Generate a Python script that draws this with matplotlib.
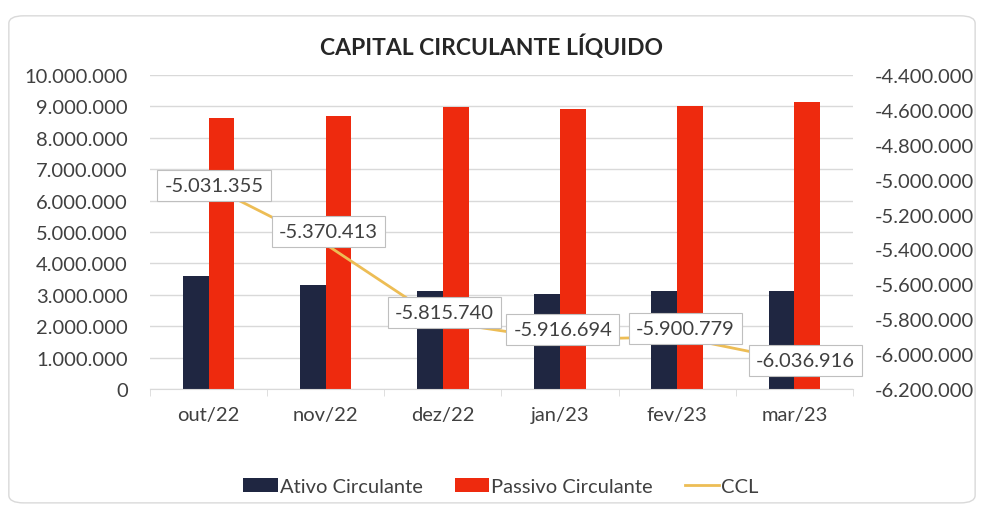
import matplotlib
matplotlib.use("Agg")
import matplotlib.pyplot as plt
import numpy as np
from matplotlib.ticker import FuncFormatter, MultipleLocator
from matplotlib.patches import FancyBboxPatch

# data
meses = ["out/22", "nov/22", "dez/22", "jan/23", "fev/23", "mar/23"]
ativo = [3590000, 3300000, 3130000, 3020000, 3110000, 3110000]
passivo = [8620000, 8680000, 8970000, 8930000, 9010000, 9130000]
ccl = [-5031355, -5370413, -5815740, -5916694, -5900779, -6036916]
ccl_labels = ["-5.031.355", "-5.370.413", "-5.815.740", "-5.916.694", "-5.900.779", "-6.036.916"]
# nudge of each data label (points), like Excel placed them
label_shift = [(4, 0), (2, 9), (1, 7), (2, 7), (6, 6), (8, 0)]

cor_ativo = "#1F2641"
cor_passivo = "#EE2A0E"
cor_ccl = "#EDBD55"

plt.rcParams["font.family"] = ["Lato", "DejaVu Sans"]
fs = 14.5


def fmt_pt(v, pos=None):
    s = "{:,.0f}".format(v).replace(",", ".")
    return s


fig = plt.figure(figsize=(9.82, 5.1), dpi=100)
fig.patch.set_facecolor("white")

# outer chart frame
frame = FancyBboxPatch((0.009, 0.012), 0.984, 0.955, boxstyle="round,pad=0,rounding_size=0.015",
                       transform=fig.transFigure, facecolor="none", edgecolor="#D9D9D9", lw=1.0)
fig.patches.append(frame)

ax = fig.add_axes([0.1527, 0.2353, 0.7159, 0.6157])
ax.patch.set_alpha(0)
x = np.arange(len(meses))
w = 0.22
ax.bar(x - w / 2, ativo, w, color=cor_ativo, label="Ativo Circulante", zorder=2)
ax.bar(x + w / 2, passivo, w, color=cor_passivo, label="Passivo Circulante", zorder=2)

ax.set_xlim(-0.5, len(meses) - 0.5)
ax.set_ylim(0, 10000000)
ax.yaxis.set_major_locator(MultipleLocator(1000000))
ax.yaxis.set_major_formatter(FuncFormatter(fmt_pt))
ax.grid(axis="y", color="#D9D9D9", lw=1.0, zorder=0)
ax.set_axisbelow(True)
for s in ["top", "right", "left"]:
    ax.spines[s].set_visible(False)
ax.spines["bottom"].set_color("#D9D9D9")
ax.set_xticks(x)
ax.set_xticklabels(meses)
ax.set_xticks(np.arange(len(meses) + 1) - 0.5, minor=True)
ax.tick_params(axis="x", which="major", length=0, pad=12, labelsize=fs, colors="#404040")
ax.tick_params(axis="x", which="minor", length=5, color="#D9D9D9")
ax.tick_params(axis="y", length=0, pad=16, labelsize=fs, colors="#404040")

ax2 = ax.twinx()
ax2.plot(x, ccl, color=cor_ccl, lw=2, label="CCL", zorder=3)
ax2.set_ylim(-6200000, -4400000)
ax2.yaxis.set_major_locator(MultipleLocator(200000))
ax2.yaxis.set_major_formatter(FuncFormatter(fmt_pt))
for s in ["top", "right", "left", "bottom"]:
    ax2.spines[s].set_visible(False)
ax2.tick_params(axis="y", length=0, pad=16, labelsize=fs, colors="#404040")

for xi, yi, lab, sh in zip(x, ccl, ccl_labels, label_shift):
    ax2.annotate(lab, (xi, yi), xytext=sh, textcoords="offset points", ha="center", va="center",
                 fontsize=fs, color="#404040", zorder=5,
                 bbox=dict(boxstyle="square,pad=0.35", facecolor="white", edgecolor="#BFBFBF", lw=0.8))

fig.text(0.5, 0.908, "CAPITAL CIRCULANTE LÍQUIDO", ha="center", va="center",
         fontsize=16.5, fontweight="bold", color="#262626")

h1, l1 = ax.get_legend_handles_labels()
h2, l2 = ax2.get_legend_handles_labels()
fig.legend(h1 + h2, l1 + l2, loc="center", bbox_to_anchor=(0.51, 0.045), ncol=3, frameon=False,
           fontsize=fs, handlelength=1.7, handleheight=0.7, handletextpad=0.1, columnspacing=1.6,
           labelcolor="#404040")

fig.savefig("out.png", dpi=100)
